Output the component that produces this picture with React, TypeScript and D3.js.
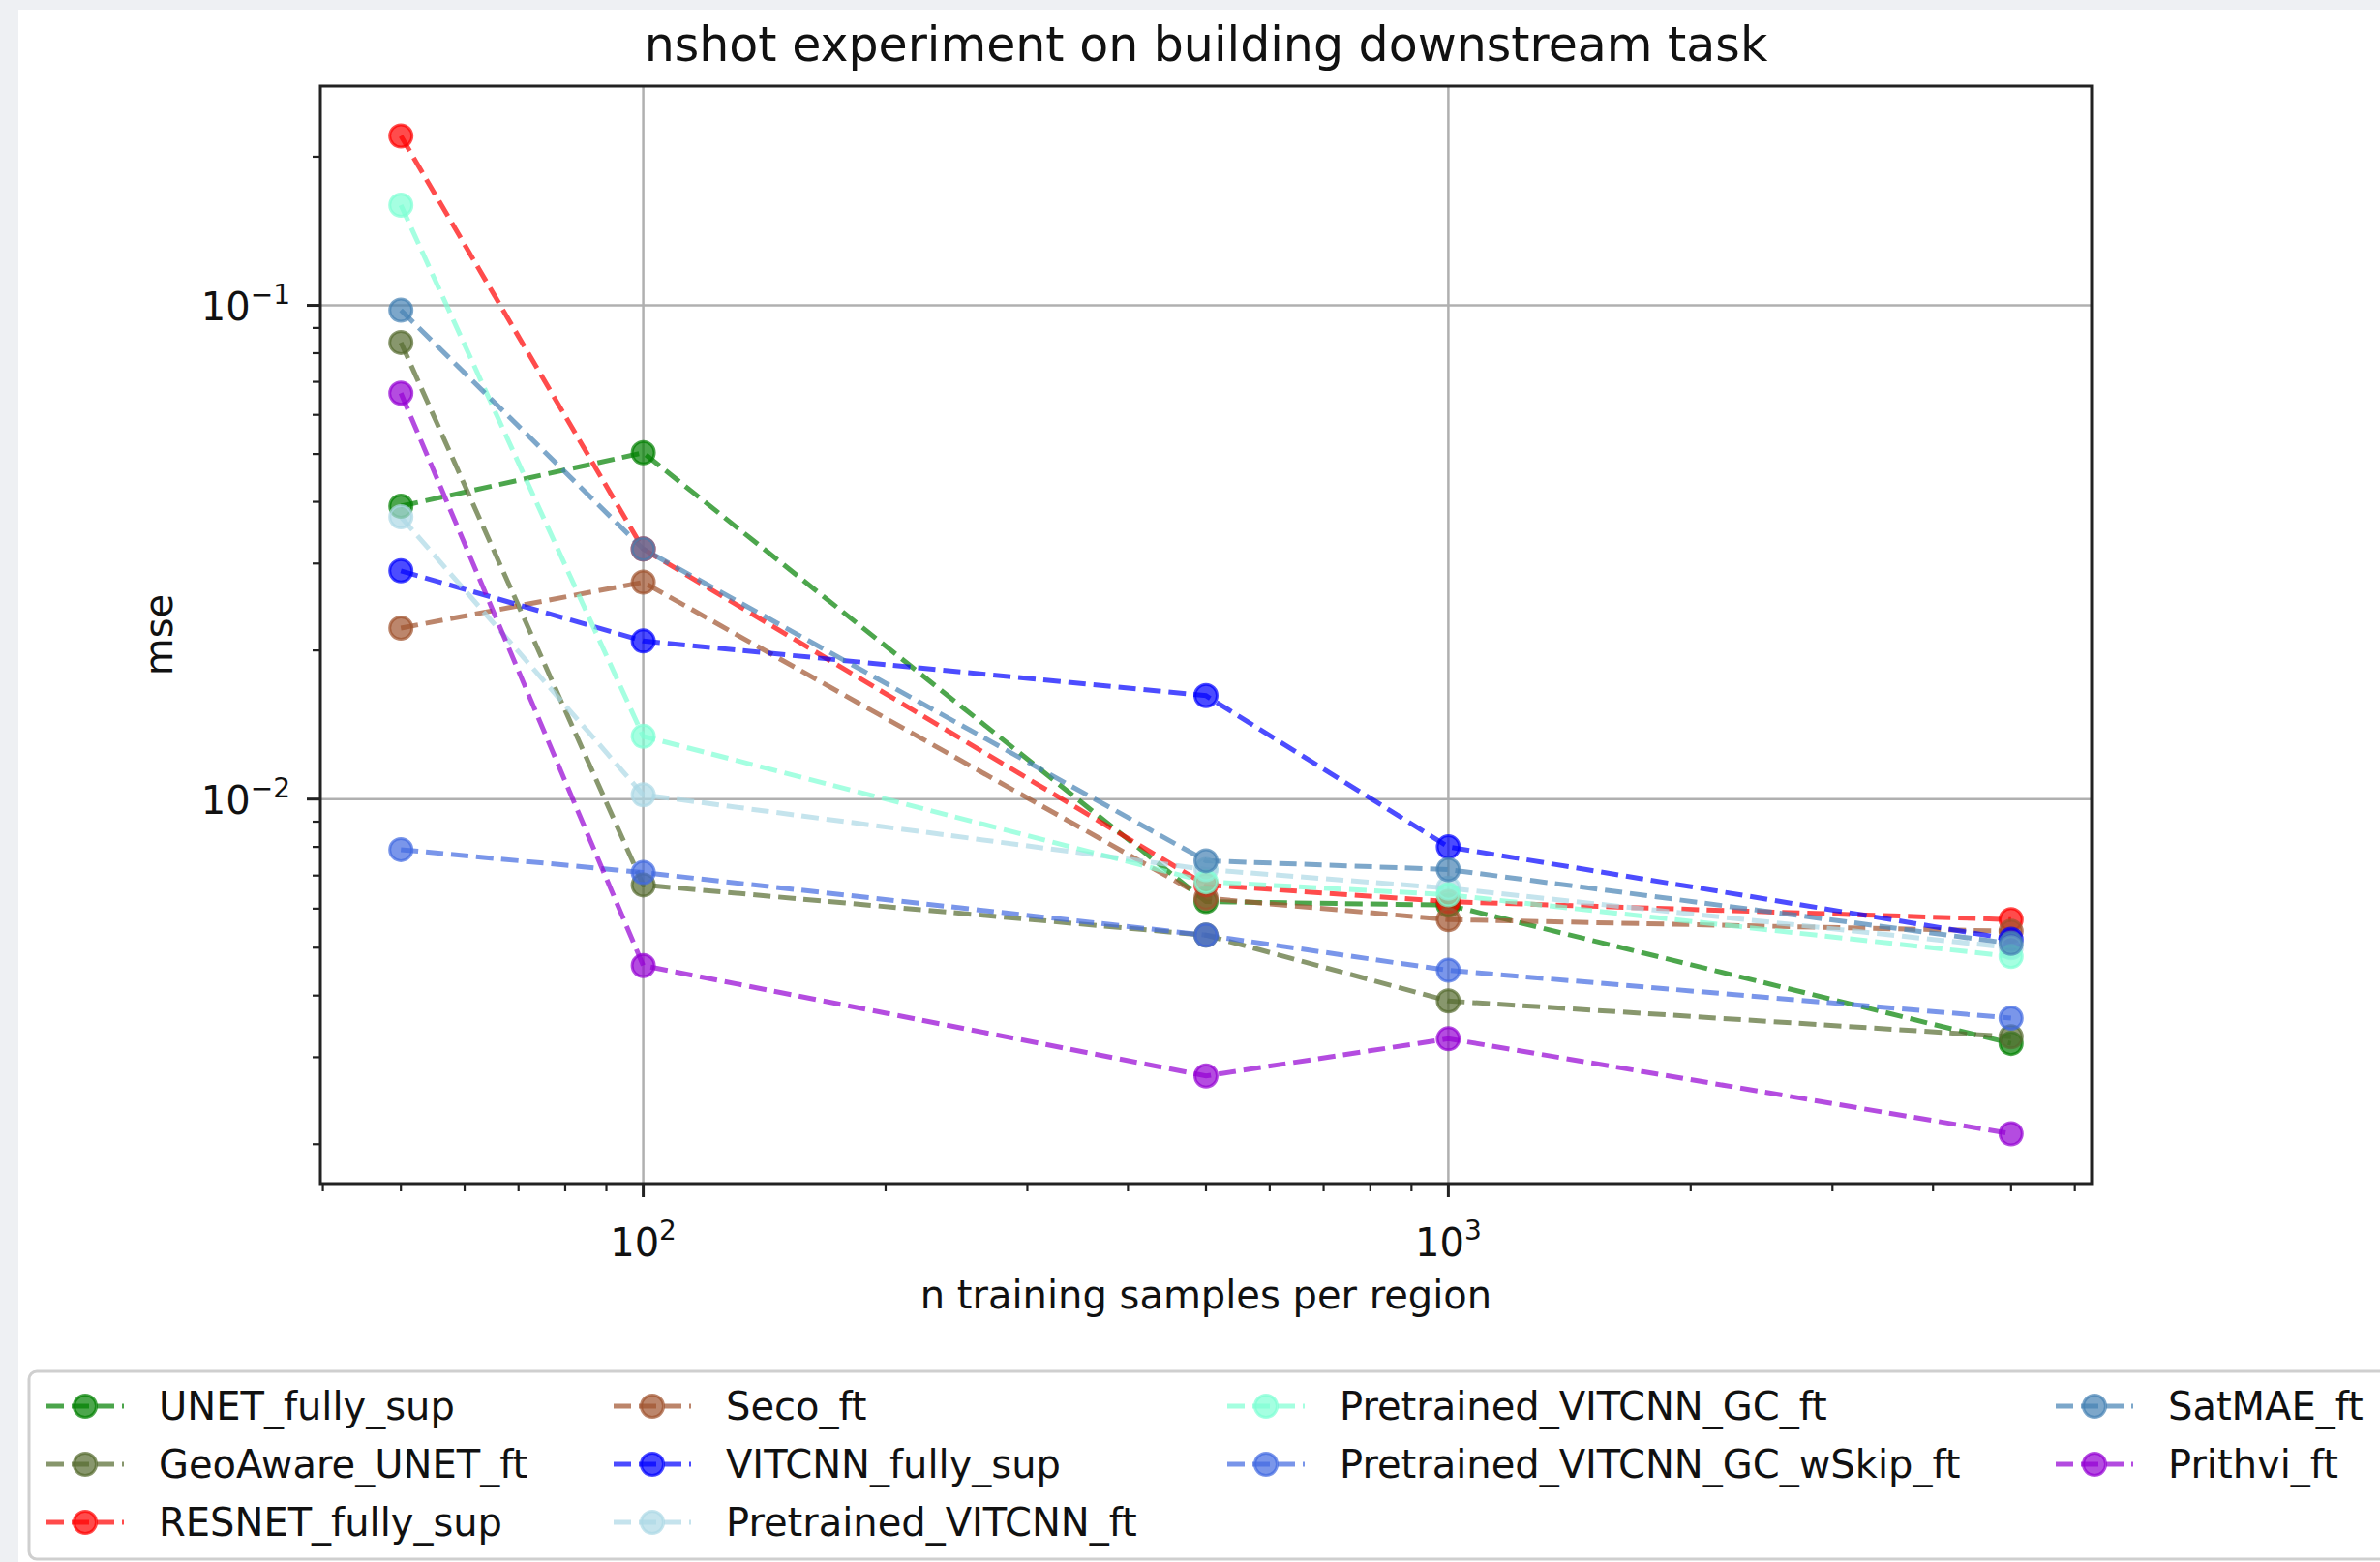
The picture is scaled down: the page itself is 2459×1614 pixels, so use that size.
import React from 'react'
import * as d3 from 'd3'

// n training samples per region
const nSamples = [50, 100, 500, 1000, 5000]

const seriesNames = [
  'UNET_fully_sup',
  'GeoAware_UNET_ft',
  'RESNET_fully_sup',
  'Seco_ft',
  'VITCNN_fully_sup',
  'Pretrained_VITCNN_ft',
  'Pretrained_VITCNN_GC_ft',
  'Pretrained_VITCNN_GC_wSkip_ft',
  'SatMAE_ft',
  'Prithvi_ft',
]
const seriesColors = [
  '#008000', '#556b2f', '#ff0000', '#a0522d', '#0000ff',
  '#add8e6', '#7fffd4', '#4169e1', '#4682b4', '#9400d3',
]

// mse per series
const unetFullySup = [0.0392, 0.0503, 0.0062, 0.0061, 0.0032]
const geoAwareUnetFt = [0.0841, 0.0067, 0.0053, 0.0039, 0.0033]
const resnetFullySup = [0.2203, 0.0321, 0.0067, 0.0062, 0.0057]
const secoFt = [0.0222, 0.0275, 0.0063, 0.0057, 0.0054]
const vitcnnFullySup = [0.029, 0.0209, 0.0162, 0.008, 0.0052]
const pretrainedVitcnnFt = [0.0373, 0.0102, 0.0072, 0.0066, 0.005]
const pretrainedVitcnnGcFt = [0.1596, 0.0134, 0.0068, 0.0064, 0.0048]
const pretrainedVitcnnGcWSkipFt = [0.0079, 0.0071, 0.0053, 0.0045, 0.0036]
const satMaeFt = [0.0978, 0.0321, 0.0075, 0.0072, 0.0051]
const prithviFt = [0.0664, 0.0046, 0.00275, 0.00327, 0.0021]

const seriesValues = [
  unetFullySup, geoAwareUnetFt, resnetFullySup, secoFt, vitcnnFullySup,
  pretrainedVitcnnFt, pretrainedVitcnnGcFt, pretrainedVitcnnGcWSkipFt, satMaeFt, prithviFt,
]

// legend is filled column by column, 4 columns
const legendColumns = [[0, 1, 2], [3, 4, 5], [6, 7], [8, 9]]
const legendColX = [48, 634, 1268, 2124]

const W = 2459
const H = 1614
const plot = { left: 331, right: 2161, top: 89, bottom: 1223 }
const FONT = 'DejaVu Sans, sans-serif'
const ALPHA = 0.7
const DASH = '18 8'

// matplotlib-like 5% margin in log space
function logDomain(vals: number[]): [number, number] {
  const lo = Math.log10(d3.min(vals)!)
  const hi = Math.log10(d3.max(vals)!)
  const m = (hi - lo) * 0.05
  return [Math.pow(10, lo - m), Math.pow(10, hi + m)]
}

const isMajor = (v: number) => Math.abs(Math.log10(v) - Math.round(Math.log10(v))) < 1e-9

export default function App() {
  const x = d3.scaleLog().domain(logDomain(nSamples)).range([plot.left, plot.right])
  const y = d3.scaleLog().domain(logDomain(seriesValues.flat())).range([plot.bottom, plot.top])

  const xTicks = x.ticks().filter(v => x(v) >= plot.left - 0.5 && x(v) <= plot.right + 0.5)
  const yTicks = y.ticks().filter(v => y(v) <= plot.bottom + 0.5 && y(v) >= plot.top - 0.5)

  const line = d3.line<number>()
    .x((_, i) => x(nSamples[i]))
    .y(d => y(d))

  const expText = (v: number) => {
    const e = Math.round(Math.log10(v))
    return e < 0 ? `\u2212${-e}` : String(e)
  }

  return (
    <svg width={W} height={H} style={{ position: 'absolute', left: 0, top: 0, display: 'block' }}
      fontFamily={FONT}>
      <rect x={0} y={0} width={W} height={H} fill="#eef0f3" />
      <rect x={19} y={10} width={W - 19} height={H - 10} fill="#ffffff" />

      <text x={(plot.left + plot.right) / 2} y={63} textAnchor="middle" fontSize={49} fill="#111">
        nshot experiment on building downstream task
      </text>

      {/* grid */}
      {xTicks.filter(isMajor).map(v => (
        <line key={`gx${v}`} x1={x(v)} x2={x(v)} y1={plot.top} y2={plot.bottom}
          stroke="#b0b0b0" strokeWidth={2.5} />
      ))}
      {yTicks.filter(isMajor).map(v => (
        <line key={`gy${v}`} x1={plot.left} x2={plot.right} y1={y(v)} y2={y(v)}
          stroke="#b0b0b0" strokeWidth={2.5} />
      ))}

      {/* series lines, then markers */}
      {seriesValues.map((vals, si) => (
        <g key={seriesNames[si]} opacity={ALPHA}>
          <path d={line(vals)!} fill="none" stroke={seriesColors[si]} strokeWidth={5}
            strokeDasharray={DASH} />
        </g>
      ))}
      {seriesValues.map((vals, si) => (
        <g key={`m${si}`}>
          {vals.map((v, i) => (
            <circle key={i} cx={x(nSamples[i])} cy={y(v)} r={11.5}
              fill={seriesColors[si]} fillOpacity={ALPHA}
              stroke={seriesColors[si]} strokeOpacity={ALPHA} strokeWidth={3} />
          ))}
        </g>
      ))}

      {/* frame */}
      <rect x={plot.left} y={plot.top} width={plot.right - plot.left} height={plot.bottom - plot.top}
        fill="none" stroke="#222" strokeWidth={3} />

      {/* x ticks */}
      {xTicks.map(v => (
        <line key={`tx${v}`} x1={x(v)} x2={x(v)} y1={plot.bottom}
          y2={plot.bottom + (isMajor(v) ? 14 : 8)} stroke="#222" strokeWidth={isMajor(v) ? 3 : 2.2} />
      ))}
      {xTicks.filter(isMajor).map(v => (
        <text key={`lx${v}`} x={x(v)} y={1298} textAnchor="middle" fontSize={40} fill="#111">
          10<tspan fontSize={28} dy={-17}>{expText(v)}</tspan>
        </text>
      ))}
      <text x={(plot.left + plot.right) / 2} y={1352} textAnchor="middle" fontSize={40} fill="#111">
        n training samples per region
      </text>

      {/* y ticks */}
      {yTicks.map(v => (
        <line key={`ty${v}`} x1={plot.left} x2={plot.left - (isMajor(v) ? 14 : 8)} y1={y(v)} y2={y(v)}
          stroke="#222" strokeWidth={isMajor(v) ? 3 : 2.2} />
      ))}
      {yTicks.filter(isMajor).map(v => (
        <text key={`ly${v}`} x={300} y={y(v) + 15} textAnchor="end" fontSize={40} fill="#111">
          10<tspan fontSize={28} dy={-17}>{expText(v)}</tspan>
        </text>
      ))}
      <text transform={`translate(178, ${(plot.top + plot.bottom) / 2}) rotate(-90)`}
        textAnchor="middle" fontSize={40} fill="#111">mse</text>

      {/* legend */}
      <rect x={30} y={1417} width={2480} height={194} rx={8} fill="#ffffff"
        stroke="#cfcfcf" strokeWidth={3} />
      {legendColumns.map((col, ci) => col.map((si, ri) => {
        const cy = 1453 + ri * 60
        const hx = legendColX[ci]
        return (
          <g key={`lg${si}`}>
            <g opacity={ALPHA}>
              <line x1={hx} x2={hx + 80} y1={cy} y2={cy} stroke={seriesColors[si]} strokeWidth={5}
                strokeDasharray="18 8" />
            </g>
            <circle cx={hx + 40} cy={cy} r={11.5} fill={seriesColors[si]} fillOpacity={ALPHA}
              stroke={seriesColors[si]} strokeOpacity={ALPHA} strokeWidth={3} />
            <text x={hx + 116} y={cy + 14} fontSize={40} fill="#111">{seriesNames[si]}</text>
          </g>
        )
      }))}
    </svg>
  )
}
